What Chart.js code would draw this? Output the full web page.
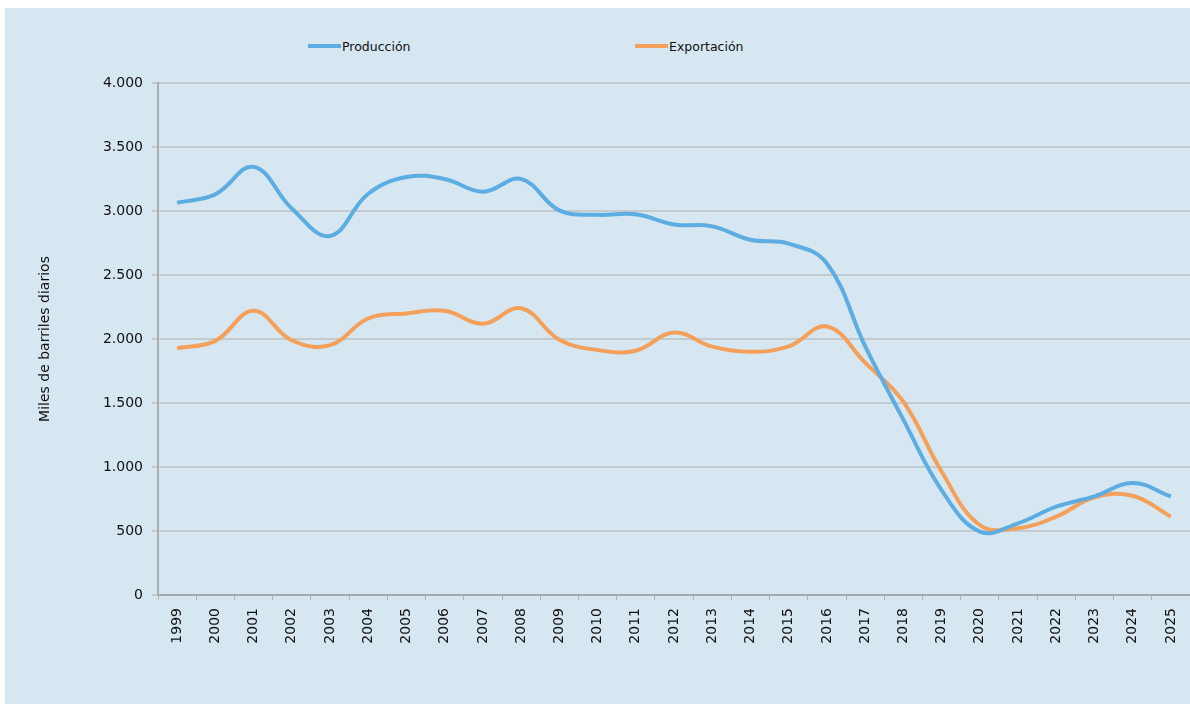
<!DOCTYPE html>
<html>
<head>
<meta charset="utf-8">
<script src="https://cdn.jsdelivr.net/npm/chart.js@4.4.1/dist/chart.umd.min.js"></script>
<style>
    body { margin: 0; background: #fff; width: 1190px; height: 704px; overflow: hidden; position: relative; font-family: 'DejaVu Sans', sans-serif; }
    #panel { position: absolute; left: 5px; top: 8px; width: 1185px; height: 696px; background: #d6e7f1; }
    #chart-box { position: absolute; left: 0; top: 0; width: 1185px; height: 696px; }
    .legend-item { position: absolute; top: 30px; height: 16px; display: flex; align-items: center; font-size: 12.5px; color: #111; }
    .legend-line { width: 33px; height: 4px; margin-right: 1px; }
</style>
</head>
<body>
<div id="panel">
    <div class="legend-item" style="left: 303px;"><span class="legend-line" style="background:#5dade2"></span>Producción</div>
    <div class="legend-item" style="left: 630px;"><span class="legend-line" style="background:#f4a05a"></span>Exportación</div>
    <div id="chart-box"><canvas id="chart"></canvas></div>
</div>
<script>
const years = ['1999','2000','2001','2002','2003','2004','2005','2006','2007','2008','2009','2010','2011','2012',
               '2013','2014','2015','2016','2017','2018','2019','2020','2021','2022','2023','2024','2025'];

// miles de barriles diarios
const produccion = [3065, 3130, 3345, 3020, 2805, 3135, 3265, 3250, 3150, 3250, 3005, 2970, 2975, 2895,
                    2880, 2775, 2745, 2590, 1945, 1370, 820, 495, 560, 690, 770, 875, 770];
const exportacion = [1927, 1985, 2220, 1990, 1952, 2160, 2200, 2220, 2120, 2240, 1995, 1914, 1908, 2050,
                     1940, 1900, 1942, 2098, 1815, 1510, 965, 547, 522, 612, 763, 775, 612];

const yTicks = [0, 500, 1000, 1500, 2000, 2500, 3000, 3500, 4000];

const axisFont = { family: "'DejaVu Sans', sans-serif", size: 14 };

function formatMiles(v) {
    return String(v).replace(/\B(?=(\d{3})+(?!\d))/g, '.');
}

new Chart(document.getElementById('chart'), {
    type: 'line',
    data: {
        labels: years,
        datasets: [
            {
                label: 'Producción',
                data: produccion,
                borderColor: '#5dade2',
                borderWidth: 4,
                tension: 0.4,
                pointRadius: 0,
                fill: false
            },
            {
                label: 'Exportación',
                data: exportacion,
                borderColor: '#f4a05a',
                borderWidth: 4,
                tension: 0.4,
                pointRadius: 0,
                fill: false
            }
        ]
    },
    options: {
        responsive: true,
        maintainAspectRatio: false,
        animation: false,
        layout: { padding: { top: 75, left: 0, right: 0, bottom: 0 } },
        plugins: {
            legend: { display: false },
            tooltip: { enabled: false }
        },
        scales: {
            x: {
                offset: true,
                grid: {
                    offset: true,
                    drawOnChartArea: false,
                    drawTicks: true,
                    tickLength: 5,
                    color: '#adb2b5',
                    lineWidth: 1
                },
                border: { color: '#a3a8ab', width: 2 },
                ticks: {
                    autoSkip: false,
                    maxRotation: 90,
                    minRotation: 90,
                    padding: 8,
                    color: '#111',
                    font: axisFont
                },
                afterFit: scale => {
                    scale.height = 109;
                    scale.paddingLeft = 0;
                    scale.paddingRight = 0;
                }
            },
            y: {
                min: 0,
                max: 4000,
                afterBuildTicks: scale => { scale.ticks = yTicks.map(v => ({ value: v })); },
                grid: {
                    color: '#c4cace',
                    lineWidth: 2,
                    drawTicks: true,
                    tickLength: 6
                },
                border: { color: '#a9aeb1', width: 2 },
                ticks: {
                    padding: 9,
                    color: '#111',
                    font: axisFont,
                    callback: v => formatMiles(v)
                },
                title: {
                    display: true,
                    text: 'Miles de barriles diarios',
                    color: '#111',
                    font: axisFont,
                    padding: { top: 32, bottom: 0 }
                },
                afterFit: scale => { scale.width = 153; }
            }
        }
    }
});
</script>
</body>
</html>
